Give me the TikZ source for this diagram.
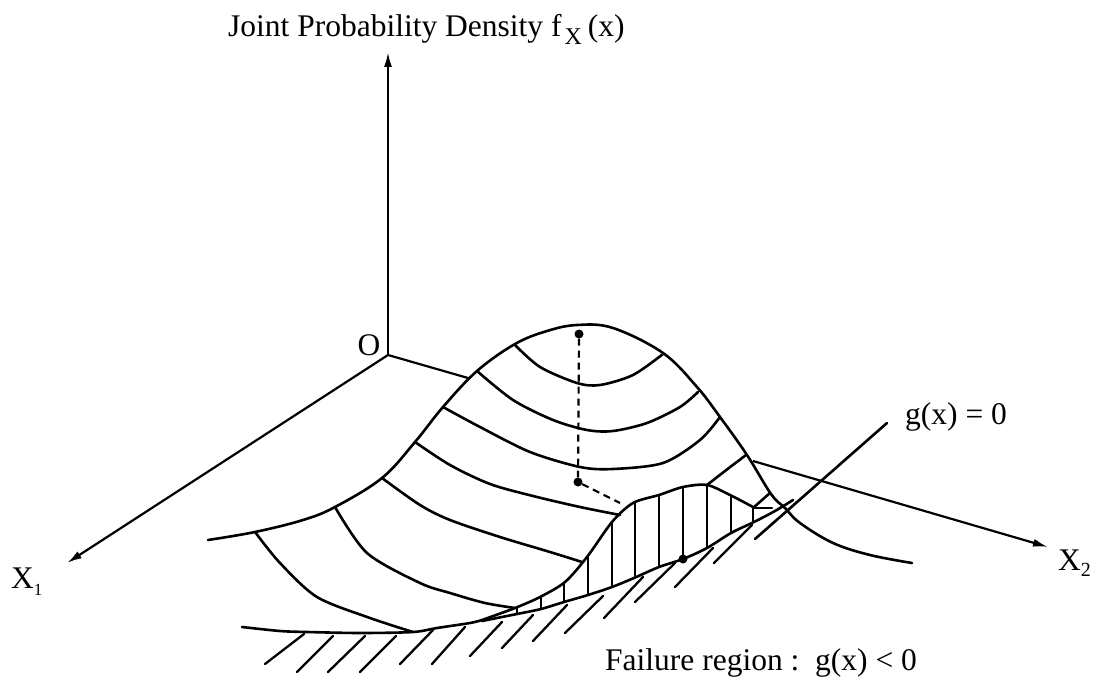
\documentclass[tikz,border=0pt]{standalone}
\usepackage{fontspec}
\setmainfont{Liberation Serif}
\usetikzlibrary{arrows.meta}
\begin{document}
\begin{tikzpicture}[x=1bp,y=-1bp,
  ln/.style={line width=2.6bp, line cap=round, line join=round},
  axline/.style={line width=2.2bp},
  ax/.style={line width=2.2bp, -{Latex[length=15bp,width=8bp]}},
  hatchln/.style={line width=2.3bp, line cap=round},
  vhatch/.style={line width=2bp},
  dashln/.style={line width=2.2bp, dash pattern=on 7bp off 5bp},
  lbl/.style={inner sep=0, font=\fontsize{31.5bp}{36bp}\selectfont},
  dot/.style={circle, fill, inner sep=0, minimum size=9bp},
]
\useasboundingbox (0,0) rectangle (1099,686);

% axes
\coordinate (O) at (388,355);
\coordinate (Ztip) at (388,52);
\coordinate (X1tip) at (67,563);
\coordinate (X2a) at (468,378);
\coordinate (X2b) at (753,461);
\coordinate (X2tip) at (1048,547);
\draw[ax] (O) -- (Ztip);
\draw[ax] (O) -- (X1tip);
\draw[axline] (O) -- (X2a);
\draw[ax] (X2b) -- (X2tip);

% surface silhouette
\draw[ln] plot[smooth, tension=0.6] coordinates {(208,540) (255,532) (303,520) (335,507) (382,478) (415,442) (443,407) (477,371) (515,344) (547,331) (577,325) (613,328) (663,353) (697,387) (720,417) (747,455) (771,494) (785,508) (800,523) (833,543) (870,555) (912,563)};

% ribs
\draw[ln] plot[smooth] coordinates {(515,345) (540,367) (577,383) (600,385) (633,375) (663,354)};
\draw[ln] plot[smooth] coordinates {(477,371) (513,400) (553,420) (587,430) (613,431) (647,423) (680,407) (698,392)};
\draw[ln] plot[smooth] coordinates {(443,407) (480,427) (530,452) (580,467) (613,469) (663,463) (700,440) (720,417)};
\draw[ln] plot[smooth] coordinates {(415,442) (450,465) (490,484) (533,496) (580,507) (620,515)};
\draw[ln] plot[smooth] coordinates {(382,478) (420,505) (450,520) (500,537) (550,552) (582,562)};
\draw[ln] plot[smooth] coordinates {(335,507) (367,553) (420,583) (450,593) (485,603) (515,608)};
\draw[ln] plot[smooth] coordinates {(255,532) (280,563) (317,597) (370,618) (413,632)};
\draw[ln] plot[smooth] coordinates {(707,485) (725,471) (746,455)};
\draw[ln] (753,508) -- (770,493);
\draw[ln] (753,508) -- (772,508);

% front edge
\draw[ln] plot[smooth] coordinates {(242,627) (280,631) (307,632) (360,633) (413,632) (437,628) (470,623) (482,620)};

% failure-surface section (bulge) and limit state curve
\draw[ln] plot[smooth] coordinates {(482,620) (515,608) (540,597) (565,582) (587,557) (612,522) (633,503) (659,495) (683,487) (707,485) (730,495) (753,507)};
\draw[ln] plot[smooth] coordinates {(482,621) (517,614) (541,609) (564,602) (588,595) (612,587) (634,578) (659,567) (683,559) (707,548) (731,533) (754,522) (775,511) (793,500)};

% vertical hatching
\begin{scope}
\clip plot[smooth] coordinates {(482,620) (515,608) (540,597) (565,582) (587,557) (612,522) (633,503) (659,495) (683,487) (707,485) (730,495) (753,507)} -- (760,507) -- (760,521) -- plot[smooth] coordinates {(754,522) (731,533) (707,548) (683,559) (659,567) (634,578) (612,587) (588,595) (564,602) (541,609) (517,614) (482,621)} -- cycle;
\foreach \xx in {517,541,564,588,612,635,659,683,707,731,753}
  \draw[vhatch] (\xx,450) -- (\xx,650);
\end{scope}

% g(x)=0 upper part
\draw[ln] (755,539) -- (887,423);

% diagonal hatching of failure region
\foreach \a/\b/\c/\d in {265/664/304/634, 297/672/333/636, 328/672/365/636, 360/672/396/636, 400/664/433/630, 432/664/465/627, 470/656/502/622, 502/648/533/615, 533/641/567/605, 565/633/603/596, 604/618/643/577, 635/602/675/563, 675/587/713/548, 714/563/752/525}
  \draw[hatchln] (\a,\b) -- (\c,\d);

% dashed projection
\node[dot] (peak) at (579,334) {};
\node[dot] (mean) at (578,482) {};
\node[dot] (dp) at (683,559) {};
\coordinate (dashend) at (620,503);
\draw[dashln] (peak) -- (mean) -- (dashend);

% labels
\node[lbl, anchor=base west] (title) at (228,37) {Joint Probability Density f\hspace{3bp}\raisebox{-8bp}{\fontsize{24bp}{26bp}\selectfont X}\hspace{6bp}(x)};
\node[lbl] (olbl) at (369,345) {O};
\node[lbl, anchor=base west] (x1lbl) at (11,588) {X\raisebox{-7bp}{\fontsize{17bp}{20bp}\selectfont 1}};
\node[lbl, anchor=base west] (x2lbl) at (1058,570) {X\raisebox{-6bp}{\fontsize{20bp}{22bp}\selectfont 2}};
\node[lbl, anchor=base west] (glbl) at (905,424) {g(x) = 0};
\node[lbl, anchor=base west] (flbl) at (605,670) {Failure region :~~g(x) < 0};
\end{tikzpicture}
\end{document}
